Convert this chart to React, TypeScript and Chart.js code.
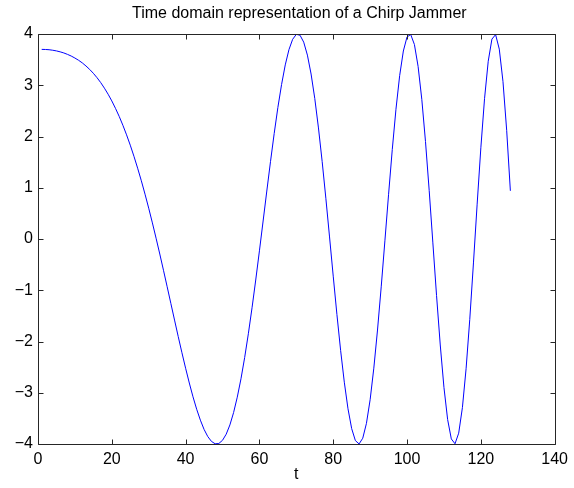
import React, { useEffect, useRef } from "react";
import { Chart, registerables } from "chart.js";

Chart.register(...registerables);

// Sample instants of the jammer waveform
const sampleTimes = [
  1, 2, 3, 4, 5, 6, 7, 8, 9, 10, 11, 12, 13, 14, 15, 16, 17, 18, 19, 20,
  21, 22, 23, 24, 25, 26, 27, 28, 29, 30, 31, 32, 33, 34, 35, 36, 37, 38, 39, 40,
  41, 42, 43, 44, 45, 46, 47, 48, 49, 50, 51, 52, 53, 54, 55, 56, 57, 58, 59, 60,
  61, 62, 63, 64, 65, 66, 67, 68, 69, 70, 71, 72, 73, 74, 75, 76, 77, 78, 79, 80,
  81, 82, 83, 84, 85, 86, 87, 88, 89, 90, 91, 92, 93, 94, 95, 96, 97, 98, 99, 100,
  101, 102, 103, 104, 105, 106, 107, 108, 109, 110, 111, 112, 113, 114, 115, 116, 117, 118, 119, 120,
  121, 122, 123, 124, 125, 126, 127, 128,
];

// Chirp jammer amplitude at each sample
const jammerAmplitude = [
  3.700, 3.698, 3.693, 3.683, 3.670, 3.652, 3.630, 3.602, 3.570, 3.531,
  3.487, 3.436, 3.376, 3.309, 3.233, 3.147, 3.051, 2.943, 2.825, 2.694,
  2.549, 2.392, 2.219, 2.032, 1.831, 1.614, 1.382, 1.136, 0.875, 0.601,
  0.314, 0.015, -0.293, -0.610, -0.932, -1.257, -1.582, -1.904, -2.219, -2.522,
  -2.810, -3.079, -3.322, -3.535, -3.715, -3.854, -3.949, -3.996, -3.990, -3.928,
  -3.808, -3.628, -3.387, -3.086, -2.728, -2.313, -1.849, -1.342, -0.800, -0.231,
  0.351, 0.936, 1.509, 2.057, 2.565, 3.014, 3.397, 3.694, 3.896, 3.993,
  3.976, 3.841, 3.588, 3.219, 2.742, 2.167, 1.511, 0.795, 0.040, -0.725,
  -1.472, -2.173, -2.794, -3.313, -3.700, -3.933, -3.999, -3.887, -3.597, -3.136,
  -2.520, -1.776, -0.934, -0.036, 0.873, 1.746, 2.532, 3.188, 3.668, 3.943,
  3.989, 3.795, 3.367, 2.725, 1.902, 0.949, -0.076, -1.105, -2.068, -2.895,
  -3.523, -3.901, -3.995, -3.789, -3.291, -2.532, -1.567, -0.467, 0.680, 1.780,
  2.738, 3.468, 3.900, 3.988, 3.705, 3.070, 2.120, 0.940,
];

const xTickValues = [0, 20, 40, 60, 80, 100, 120, 140];
const yTickValues = [-4, -3, -2, -1, 0, 1, 2, 3, 4];

const chartTitle = "Time domain representation of a Chirp Jammer";
const xAxisLabel = "t";

const FONT = '"Liberation Sans", Arial, Helvetica, sans-serif';
const AXIS_COLOR = "#262626";

const fmt = (v: number) => (v < 0 ? "\u2212" + Math.abs(v) : String(v));

// Draws the boxed axes with inward ticks, the title and the x-axis label
const framePlugin = {
  id: "frame",
  afterDatasetsDraw(chart: any) {
    const { ctx, chartArea: a, scales } = chart;
    const xs = scales.x;
    const ys = scales.y;
    const tick = 5;
    ctx.save();
    ctx.strokeStyle = AXIS_COLOR;
    ctx.lineWidth = 1;
    ctx.beginPath();
    const L = Math.round(a.left) + 0.5;
    const R = Math.round(a.right) + 0.5;
    const T = Math.round(a.top) + 0.5;
    const B = Math.round(a.bottom) + 0.5;
    ctx.rect(L, T, R - L, B - T);
    xTickValues.forEach((v) => {
      const px = Math.round(xs.getPixelForValue(v)) + 0.5;
      ctx.moveTo(px, B);
      ctx.lineTo(px, B - tick);
      ctx.moveTo(px, T);
      ctx.lineTo(px, T + tick);
    });
    yTickValues.forEach((v) => {
      const py = Math.round(ys.getPixelForValue(v)) + 0.5;
      ctx.moveTo(L, py);
      ctx.lineTo(L + tick, py);
      ctx.moveTo(R, py);
      ctx.lineTo(R - tick, py);
    });
    ctx.stroke();

    ctx.fillStyle = "#000";
    ctx.font = `16px ${FONT}`;
    ctx.textAlign = "center";
    ctx.textBaseline = "middle";
    const cx = (a.left + a.right) / 2;
    ctx.fillText(chartTitle, cx + 3, 14);
    ctx.fillText(xAxisLabel, cx, 475);
    ctx.restore();
  },
};

export default function App() {
  const canvasRef = useRef<HTMLCanvasElement | null>(null);

  useEffect(() => {
    if (!canvasRef.current) return;
    const points = sampleTimes.map((t, i) => ({ x: t, y: jammerAmplitude[i] }));
    const chart = new Chart(canvasRef.current, {
      type: "line",
      data: {
        datasets: [
          {
            data: points,
            borderColor: "#0000ff",
            borderWidth: 1,
            pointRadius: 0,
            tension: 0,
            fill: false,
          },
        ],
      },
      options: {
        animation: false,
        responsive: false,
        maintainAspectRatio: false,
        layout: { padding: { left: 0, right: 17, top: 34, bottom: 0 } },
        plugins: {
          legend: { display: false },
          title: { display: false },
          tooltip: { enabled: false },
        },
        scales: {
          x: {
            type: "linear",
            min: 0,
            max: 140,
            afterFit: (s: any) => {
              s.height = 44;
            },
            afterBuildTicks: (s: any) => {
              s.ticks = xTickValues.map((v) => ({ value: v }));
            },
            grid: { display: false, drawTicks: false },
            border: { display: false },
            ticks: {
              padding: 6,
              maxRotation: 0,
              autoSkip: false,
              color: "#000",
              font: { family: FONT, size: 16 },
              callback: (v: any) => fmt(Number(v)),
            },
          },
          y: {
            type: "linear",
            min: -4,
            max: 4,
            afterFit: (s: any) => {
              s.width = 38;
            },
            afterBuildTicks: (s: any) => {
              s.ticks = yTickValues.map((v) => ({ value: v }));
            },
            grid: { display: false, drawTicks: false },
            border: { display: false },
            ticks: {
              padding: 5,
              autoSkip: false,
              color: "#000",
              font: { family: FONT, size: 16 },
              callback: (v: any) => fmt(Number(v)),
            },
          },
        },
      },
      plugins: [framePlugin],
    });
    return () => chart.destroy();
  }, []);

  return (
    <div
      style={{
        position: "fixed",
        left: 0,
        top: 0,
        width: 574,
        height: 488,
        background: "#fff",
      }}
    >
      <canvas ref={canvasRef} width={574} height={488} style={{ width: 574, height: 488 }} />
    </div>
  );
}
